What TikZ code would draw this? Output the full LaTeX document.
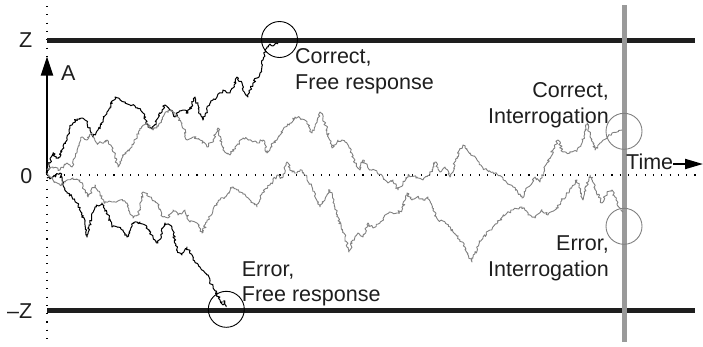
\documentclass[tikz,border=0pt]{standalone}
\usepackage{fontspec}
\setmainfont{Liberation Sans}
\usetikzlibrary{arrows.meta,decorations.pathmorphing}
\definecolor{wgray}{HTML}{808080}
\definecolor{bargray}{HTML}{9A9A9A}
\definecolor{boundk}{HTML}{1E1E1E}
\begin{document}
\begin{tikzpicture}[x=1pt,y=-1pt,
  lbl/.style={inner sep=0pt, font=\fontsize{21.5}{25.5}\selectfont, text=boundk},
  bwalk/.style={draw=black, line width=1pt, line join=round, decorate,
    decoration={random steps,segment length=1.6pt,amplitude=1.4pt}},
  gwalk/.style={draw=wgray, line width=0.9pt, line join=round, decorate,
    decoration={random steps,segment length=1.6pt,amplitude=1.4pt}},
  bound/.style={draw=boundk, line width=5pt},
  dotaxis/.style={draw=black, line width=1.2pt, dash pattern=on 1.1pt off 7.2pt},
  ring/.style={circle, draw=black, line width=0.9pt, minimum size=36pt, inner sep=0pt},
  gring/.style={circle, draw=wgray, line width=0.9pt, minimum size=36pt, inner sep=0pt}]
\useasboundingbox (0,0) rectangle (703,346);
\pgfmathsetseed{12}

% axes
\coordinate (vtop) at (47,6);
\coordinate (vbot) at (47,343);
\draw[dotaxis] (vtop) -- (vbot);
\coordinate (hl) at (47,175);
\coordinate (hr) at (701,175);
\draw[dotaxis] (hl) -- (hr);

% boundaries
\coordinate (ztl) at (47,40);
\coordinate (ztr) at (695,40);
\draw[bound] (ztl) -- (ztr);
\coordinate (zbl) at (47,310);
\coordinate (zbr) at (695,310);
\draw[bound] (zbl) -- (zbr);

% interrogation time bar
\coordinate (bt) at (624,5);
\coordinate (bb) at (624,342);
\draw[draw=bargray, line width=5pt] (bt) -- (bb);

% axis labels
\node[lbl, anchor=base east] (lz) at (32.5,47.7) {Z};
\node[lbl, anchor=base east] (l0) at (32.5,183) {0};
\node[lbl, anchor=base east] (lmz) at (32.5,318) {–Z};

% A arrow
\coordinate (aorg) at (47,175);
\coordinate (atip) at (47,56.5);
\draw[line width=2.2pt, -{Triangle[length=19pt,width=12pt]}] (aorg) -- (atip);
\node[lbl, anchor=base west] (la) at (61,80) {A};

% Time arrow
\node[lbl, anchor=base west] (time) at (626,169.3) {Time};
\coordinate (ttip) at (703,164);
\draw[line width=2pt, -{Triangle[length=18pt,width=10pt]}] (time.east |- ttip) -- (ttip);

% black walk: correct, free response
\draw[bwalk] (47,175) -- (50,163) -- (53,153) -- (56,158) -- (60,157) -- (63,146) -- (67,137) -- (70,128) -- (73,123) -- (77,119) -- (82,118) -- (85,120) -- (87,123) -- (90,130) -- (93,137) -- (96,133) -- (98,130) -- (103,120) -- (107,112) -- (110,107) -- (115,97) -- (120,100) -- (125,103) -- (130,105) -- (135,106) -- (138,108) -- (143,113) -- (146,122) -- (148,127) -- (153,128) -- (158,118) -- (162,110) -- (165,105) -- (170,110) -- (175,117) -- (179,112) -- (183,110) -- (188,113) -- (192,104) -- (195,97) -- (199,110) -- (203,120) -- (207,110) -- (210,103) -- (213,100) -- (217,97) -- (223,90) -- (230,93) -- (234,85) -- (237,77) -- (242,83) -- (243,90) -- (248,97) -- (253,83) -- (257,78) -- (260,73) -- (263,60) -- (265,50) -- (267,47) -- (270,44) -- (273,46) -- (277,43) -- (278,44);

% black walk: error, free response
\draw[bwalk] (47,178) -- (53,177) -- (60,173) -- (63,183) -- (67,193) -- (72,197) -- (77,203) -- (82,213) -- (85,225) -- (87,237) -- (90,223) -- (95,207) -- (102,203) -- (107,213) -- (112,227) -- (118,227) -- (123,230) -- (127,237) -- (133,223) -- (140,222) -- (147,227) -- (153,237) -- (158,243) -- (162,232) -- (165,223) -- (172,227) -- (177,250) -- (182,255) -- (187,247) -- (193,260) -- (200,267) -- (207,275) -- (213,287) -- (220,300) -- (223,305) -- (225,301) -- (226,307);

% gray walk: correct, interrogation
\draw[gwalk] (47,170) -- (53,167) -- (60,170) -- (67,163) -- (72,167) -- (77,150) -- (82,137) -- (87,140) -- (92,133) -- (97,143) -- (102,143) -- (107,140) -- (112,147) -- (118,167) -- (125,153) -- (132,147) -- (140,130) -- (147,123) -- (153,130) -- (160,123) -- (168,110) -- (175,113) -- (182,123) -- (187,140) -- (193,137) -- (200,140) -- (207,147) -- (213,140) -- (218,128) -- (223,150) -- (230,155) -- (237,145) -- (243,138) -- (250,140) -- (257,143) -- (263,140) -- (267,153) -- (273,143) -- (277,140) -- (285,127) -- (290,123) -- (295,117) -- (300,118) -- (307,123) -- (312,133) -- (317,120) -- (320,112) -- (323,117) -- (327,130) -- (332,148) -- (338,140) -- (345,142) -- (350,148) -- (355,163) -- (360,170) -- (363,160) -- (368,168) -- (377,172) -- (383,177) -- (388,183) -- (393,180) -- (398,190) -- (403,183) -- (408,175) -- (417,177) -- (423,180) -- (430,175) -- (435,162) -- (440,172) -- (445,167) -- (450,177) -- (457,157) -- (463,145) -- (470,153) -- (477,160) -- (483,168) -- (493,172) -- (503,178) -- (513,187) -- (522,198) -- (528,187) -- (535,177) -- (540,182) -- (547,163) -- (553,150) -- (558,140) -- (563,152) -- (570,153) -- (577,150) -- (582,143) -- (587,123) -- (590,137) -- (595,150) -- (600,143) -- (607,137) -- (612,133) -- (617,132) -- (622,130);

% gray walk: error, interrogation
\draw[gwalk] (47,173) -- (53,180) -- (60,185) -- (67,180) -- (73,178) -- (80,180) -- (88,197) -- (95,185) -- (100,193) -- (105,203) -- (112,202) -- (120,200) -- (127,203) -- (133,218) -- (138,215) -- (143,192) -- (150,197) -- (157,203) -- (163,217) -- (168,218) -- (173,210) -- (178,215) -- (185,210) -- (190,222) -- (197,223) -- (202,233) -- (207,222) -- (213,210) -- (220,200) -- (225,197) -- (232,187) -- (237,190) -- (243,193) -- (250,200) -- (257,207) -- (262,193) -- (270,185) -- (277,175) -- (282,178) -- (287,162) -- (292,172) -- (297,173) -- (302,170) -- (307,178) -- (312,187) -- (315,197) -- (320,207) -- (325,200) -- (330,190) -- (335,207) -- (338,217) -- (342,230) -- (345,237) -- (349,252) -- (353,240) -- (358,233) -- (363,237) -- (368,223) -- (373,228) -- (380,223) -- (385,215) -- (390,212) -- (397,213) -- (402,210) -- (407,193) -- (412,200) -- (417,197) -- (423,200) -- (428,197) -- (433,210) -- (438,220) -- (445,222) -- (453,232) -- (460,240) -- (465,247) -- (472,262) -- (477,247) -- (483,237) -- (490,230) -- (498,222) -- (507,213) -- (513,210) -- (522,207) -- (528,215) -- (535,218) -- (542,210) -- (548,215) -- (555,210) -- (562,200) -- (568,193) -- (577,180) -- (583,200) -- (590,175) -- (595,188) -- (602,203) -- (607,193) -- (612,190) -- (615,197) -- (620,208) -- (623,212);

% circles marking outcomes
\node[ring] (cfree) at (279.5,39.5) {};
\node[ring] (efree) at (226.3,309.3) {};
\node[gring] (cint) at (624,131.3) {};
\node[gring] (eint) at (624,226.3) {};

% outcome labels (base anchor = baseline of the last line)
\node[lbl, anchor=base west, align=left] (tcf) at (295,89) {Correct,\\Free response};
\node[lbl, anchor=base west, align=left] (tef) at (241.7,301.7) {Error,\\Free response};
\node[lbl, anchor=base east, align=right] (tci) at (609,123.3) {Correct,\\Interrogation};
\node[lbl, anchor=base east, align=right] (tei) at (609,276) {Error,\\Interrogation};
\end{tikzpicture}
\end{document}
